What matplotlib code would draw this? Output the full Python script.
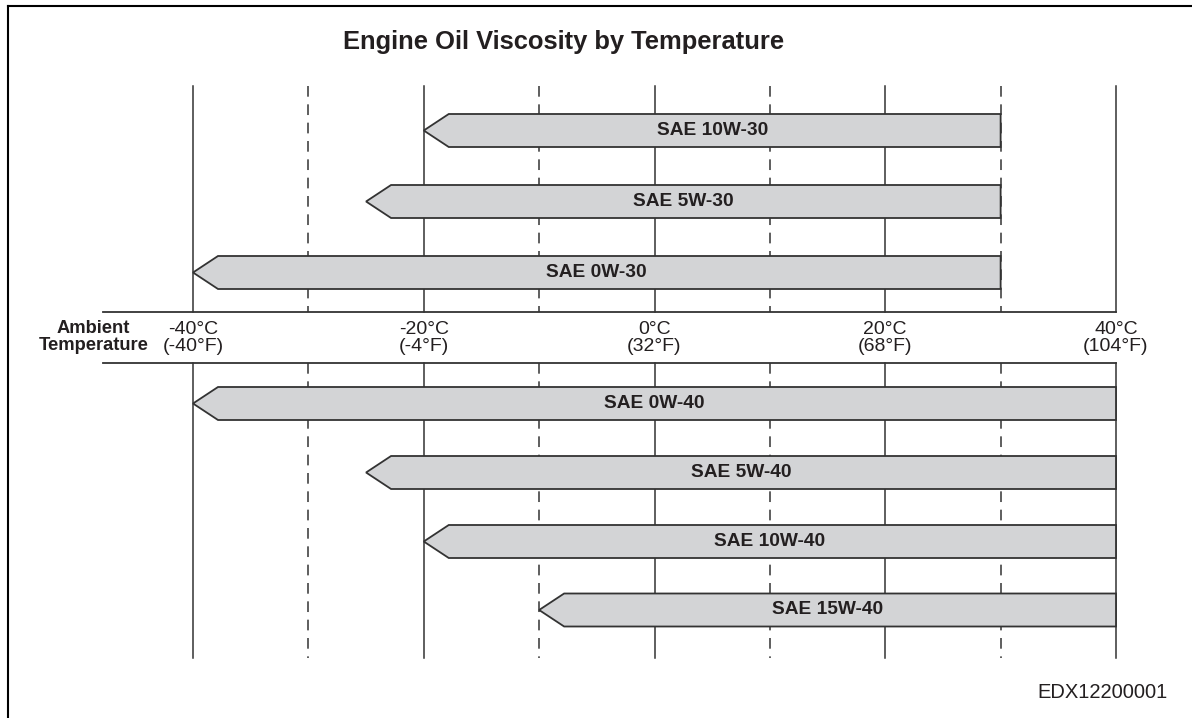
import matplotlib
matplotlib.use("Agg")
import matplotlib.pyplot as plt
from matplotlib.patches import Polygon
from matplotlib.lines import Line2D

plt.rcParams['font.family'] = ['Liberation Sans', 'DejaVu Sans']

# ---- data ----
title = "Engine Oil Viscosity by Temperature"
grades_top = ["SAE 10W-30", "SAE 5W-30", "SAE 0W-30"]
start_top = [-20, -25, -40]
end_top = [30, 30, 30]
grades_bot = ["SAE 0W-40", "SAE 5W-40", "SAE 10W-40", "SAE 15W-40"]
start_bot = [-40, -25, -20, -10]
end_bot = [40, 40, 40, 40]
solid_ticks = [-40, -20, 0, 20, 40]
dashed_ticks = [-30, -10, 10, 30]
tick_c = ["-40°C", "-20°C", "0°C", "20°C", "40°C"]
tick_f = ["(-40°F)", "(-4°F)", "(32°F)", "(68°F)", "(104°F)"]
code = "EDX12200001"

# ---- layout (pixel rows) ----
W, H = 1192, 718
px_per_deg = (1116 - 193) / 80.0
xmin = -40 - 193 / px_per_deg
xmax = 40 + (W - 1116) / px_per_deg

rows_top = [130.5, 201.5, 272.5]
rows_bot = [403.5, 472.5, 541.5, 610]
bar_h = 33
tip = 25 / px_per_deg

edge = "#333333"
fill = "#d3d4d6"
txt = "#231f20"

fig = plt.figure(figsize=(W / 100, H / 100), dpi=100)
ax = fig.add_axes([0, 0, 1, 1])
ax.set_xlim(xmin, xmax)
ax.set_ylim(H, 0)
ax.axis("off")

top_y0, top_y1 = 86, 312
bot_y0, bot_y1 = 363, 658
for t in solid_ticks:
    for a, b in [(top_y0, top_y1), (bot_y0, bot_y1)]:
        ax.plot([t, t], [a, b], color=edge, lw=1.1, zorder=1)
for t in dashed_ticks:
    for a, b in [(top_y0, top_y1), (bot_y0, bot_y1)]:
        ax.plot([t, t], [a, b], color=edge, lw=1.1, zorder=1,
                linestyle=(0, (7, 5)))

x_axis_left = -40 - (193 - 103) / px_per_deg
for yy in (312, 363):
    ax.plot([x_axis_left, 40], [yy, yy], color=edge, lw=1.3, zorder=1)


def arrow(x0, x1, yc, label):
    t, b = yc - bar_h / 2, yc + bar_h / 2
    poly = Polygon([(x0, yc), (x0 + tip, t), (x1, t), (x1, b), (x0 + tip, b)],
                   closed=True, facecolor=fill, edgecolor=edge, lw=1.3, zorder=2)
    ax.add_patch(poly)
    ax.text((x0 + x1) / 2, yc, label, ha="center", va="center",
            fontsize=13.8, fontweight="bold", color=txt, zorder=3)


for g, s, e, y in zip(grades_top, start_top, end_top, rows_top):
    arrow(s, e, y, g)
for g, s, e, y in zip(grades_bot, start_bot, end_bot, rows_bot):
    arrow(s, e, y, g)

for t, c, f in zip(solid_ticks, tick_c, tick_f):
    ax.text(t, 329.5, c, ha="center", va="center", fontsize=14, color=txt)
    ax.text(t, 346.5, f, ha="center", va="center", fontsize=14, color=txt)

ambient_x = -40 - (193 - 93.5) / px_per_deg
ax.text(ambient_x, 328.5, "Ambient", ha="center", va="center", fontsize=13.2,
        fontweight="bold", color=txt)
ax.text(ambient_x, 345.5, "Temperature", ha="center", va="center", fontsize=13.2,
        fontweight="bold", color=txt)

title_x = -40 - (193 - 564) / px_per_deg
ax.text(title_x, 42, title, ha="center", va="center", fontsize=18.4,
        fontweight="bold", color=txt)

code_x = -40 - (193 - 1168) / px_per_deg
ax.text(code_x, 693, code, ha="right", va="center", fontsize=14.5, color=txt)

# frame: left and top edges
fig.add_artist(Line2D([8 / W, 8 / W], [0, 1 - 6 / H], transform=fig.transFigure,
                      color="black", lw=1.5))
fig.add_artist(Line2D([8 / W, 1], [1 - 6 / H, 1 - 6 / H], transform=fig.transFigure,
                      color="black", lw=1.5))

fig.savefig("out.png", dpi=100)
